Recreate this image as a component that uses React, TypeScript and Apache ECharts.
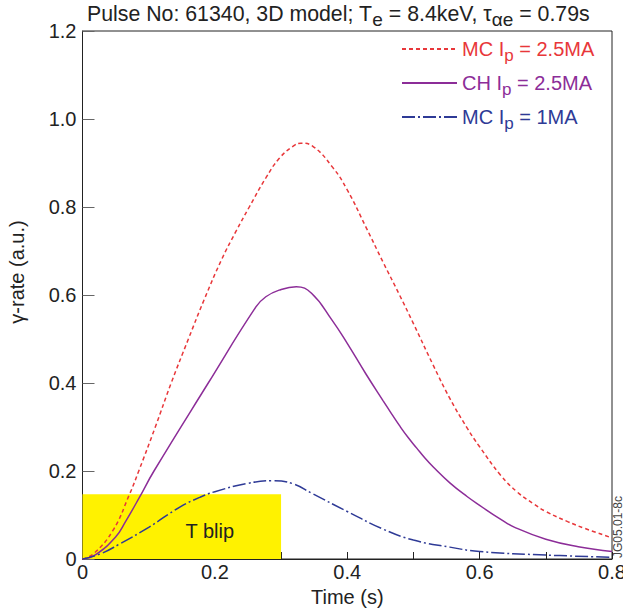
import React, { useEffect, useRef } from "react";
import * as echarts from "echarts";

const FONT = '"Liberation Sans", Arial, Helvetica, sans-serif';

// Series names and legend label parts
const seriesNames = ["MC Ip = 2.5MA", "CH Ip = 2.5MA", "MC Ip = 1MA"];
const legendPrefix = ["MC I", "CH I", "MC I"];
const legendSub = ["p", "p", "p"];
const legendSuffix = [" = 2.5MA", " = 2.5MA", " = 1MA"];
const seriesColors = ["#e8373a", "#8c2d98", "#2e3a96"];

// MC, Ip = 2.5MA (red dashed)
const tMC25 = [0, 0.016, 0.046, 0.071, 0.085, 0.11, 0.134, 0.16, 0.184, 0.21, 0.232, 0.252, 0.277, 0.297, 0.318, 0.33, 0.348, 0.378, 0.4, 0.428, 0.454, 0.479, 0.5, 0.53, 0.555, 0.581, 0.6, 0.632, 0.657, 0.683, 0.7, 0.733, 0.758, 0.8];
const vMC25 = [0, 0.011, 0.065, 0.147, 0.2, 0.3, 0.4, 0.5, 0.59, 0.68, 0.745, 0.8, 0.866, 0.91, 0.938, 0.945, 0.938, 0.89, 0.839, 0.755, 0.675, 0.6, 0.535, 0.44, 0.365, 0.298, 0.255, 0.19, 0.152, 0.124, 0.108, 0.085, 0.07, 0.048];

// CH, Ip = 2.5MA (purple solid)
const tCH25 = [0, 0.02, 0.05, 0.065, 0.086, 0.108, 0.19, 0.262, 0.277, 0.297, 0.323, 0.346, 0.377, 0.4, 0.428, 0.454, 0.467, 0.479, 0.492, 0.505, 0.517, 0.53, 0.555, 0.581, 0.6, 0.632, 0.653, 0.7, 0.749, 0.8];
const vCH25 = [0, 0.01, 0.05, 0.085, 0.14, 0.2, 0.4, 0.573, 0.596, 0.611, 0.619, 0.604, 0.543, 0.49, 0.421, 0.36, 0.33, 0.303, 0.276, 0.252, 0.23, 0.209, 0.173, 0.142, 0.122, 0.09, 0.072, 0.045, 0.028, 0.017];

// MC, Ip = 1MA (navy dash-dot)
const tMC1 = [0, 0.026, 0.056, 0.1, 0.147, 0.177, 0.2, 0.247, 0.287, 0.318, 0.348, 0.4, 0.454, 0.5, 0.555, 0.6, 0.7, 0.8];
const vMC1 = [0, 0.011, 0.034, 0.072, 0.118, 0.14, 0.153, 0.171, 0.178, 0.171, 0.148, 0.108, 0.068, 0.043, 0.027, 0.017, 0.009, 0.004];

// T blip window
const blipTime = [0, 0.3];
const blipLevel = [0, 0.147];

const zip = (t: number[], v: number[]) => t.map((x, i) => [x, v[i]]);

export default function App() {
  const ref = useRef<HTMLDivElement>(null);
  useEffect(() => {
    if (!ref.current) return;
    const chart = echarts.init(ref.current, null, { renderer: "svg" });
    const lineTypes: any[] = [[4, 3], "solid", [13, 3, 2, 3]];
    const datas = [zip(tMC25, vMC25), zip(tCH25, vCH25), zip(tMC1, vMC1)];
    const richKeys = ["r", "p", "b"];
    const legendRich: any = {};
    richKeys.forEach((k, i) => {
      legendRich[k] = { fontFamily: FONT, fontSize: 20, lineHeight: 29, color: seriesColors[i] };
      legendRich[k + "s"] = { fontFamily: FONT, fontSize: 17, lineHeight: 17, verticalAlign: "bottom", color: seriesColors[i] };
    });
    const option: any = {
      animation: false,
      backgroundColor: "#ffffff",
      title: {
        left: 87,
        top: -1,
        padding: 0,
        text: "{m|Pulse No: 61340, 3D model; T}{s|e}{m| = 8.4keV, τ}{s|αe}{m| = 0.79s}",
        textStyle: {
          fontFamily: FONT,
          fontWeight: "normal",
          rich: {
            m: { fontFamily: FONT, fontSize: 21.3, lineHeight: 30, color: "#222" },
            s: { fontFamily: FONT, fontSize: 19, lineHeight: 19, verticalAlign: "bottom", color: "#222" },
          },
        },
      },
      legend: {
        left: 401,
        top: 39,
        orient: "vertical",
        padding: 0,
        itemWidth: 55,
        itemHeight: 14,
        itemGap: 9.5,
        selectedMode: false,
        itemStyle: { opacity: 0 },
        data: seriesNames,
        formatter: (name: string) => {
          const i = seriesNames.indexOf(name);
          const k = richKeys[i];
          return `{${k}|${legendPrefix[i]}}{${k}s|${legendSub[i]}}{${k}|${legendSuffix[i]}}`;
        },
        textStyle: { fontFamily: FONT, fontSize: 20, rich: legendRich },
      },
      grid: {
        left: 82.5,
        right: 11,
        top: 31,
        bottom: 52,
        show: true,
        borderColor: "#222",
        borderWidth: 1,
        backgroundColor: "transparent",
        containLabel: false,
        outerBoundsMode: "none",
      },
      xAxis: {
        type: "value",
        min: 0,
        max: 0.8,
        interval: 0.2,
        name: "Time (s)",
        nameLocation: "middle",
        nameGap: 26,
        nameTextStyle: { fontFamily: FONT, fontSize: 20, color: "#222" },
        axisLine: { show: true, lineStyle: { color: "#222", width: 1 } },
        axisTick: { show: true, inside: true, length: 7, lineStyle: { color: "#222" } },
        minorTick: { show: true, splitNumber: 2, length: 7, lineStyle: { color: "#222" } },
        splitLine: { show: false },
        minorSplitLine: { show: false },
        axisLabel: {
          fontFamily: FONT,
          fontSize: 20,
          color: "#222",
          margin: 3,
          formatter: (v: number) => (v === 0 ? "0" : v.toFixed(1)),
        },
      },
      yAxis: {
        type: "value",
        min: 0,
        max: 1.2,
        interval: 0.2,
        axisLine: { show: true, lineStyle: { color: "#222", width: 1 } },
        axisTick: { show: true, inside: true, length: 12, lineStyle: { color: "#666" } },
        splitLine: { show: false },
        axisLabel: {
          fontFamily: FONT,
          fontSize: 20,
          color: "#222",
          margin: 6,
          formatter: (v: number) => (v === 0 ? "0" : v.toFixed(1)),
        },
      },
      graphic: [
        {
          type: "text",
          x: 17,
          y: 272,
          rotation: Math.PI / 2,
          style: {
            text: "γ-rate (a.u.)",
            fontFamily: FONT,
            fontSize: 20,
            fill: "#222",
            align: "center",
            verticalAlign: "middle",
          },
        },
        {
          type: "text",
          x: 617.5,
          y: 527,
          rotation: Math.PI / 2,
          style: {
            text: "JG05.01-8c",
            fontFamily: FONT,
            fontSize: 12,
            fill: "#444",
            align: "center",
            verticalAlign: "middle",
          },
        },
      ],
      series: [
        {
          type: "line",
          name: "T blip",
          data: [],
          z: 1,
          silent: true,
          markArea: {
            silent: true,
            itemStyle: { color: "#fff200", opacity: 1, borderWidth: 0 },
            label: {
              show: true,
              position: "inside",
              offset: [28, 4],
              formatter: "T blip",
              fontFamily: FONT,
              fontSize: 20,
              color: "#222",
            },
            data: [[{ coord: [blipTime[0], blipLevel[0]] }, { coord: [blipTime[1], blipLevel[1]] }]],
          },
        },
        ...seriesNames.map((name, i) => ({
          type: "line",
          name,
          data: datas[i],
          smooth: 0.45,
          symbol: "none",
          z: 3,
          itemStyle: { color: seriesColors[i] },
          lineStyle: { color: seriesColors[i], width: 1.5, type: lineTypes[i] },
        })),
      ],
    };
    chart.setOption(option);
    return () => chart.dispose();
  }, []);
  return (
    <div
      ref={ref}
      style={{ position: "absolute", left: 0, top: 0, width: 623, height: 611 }}
    />
  );
}
